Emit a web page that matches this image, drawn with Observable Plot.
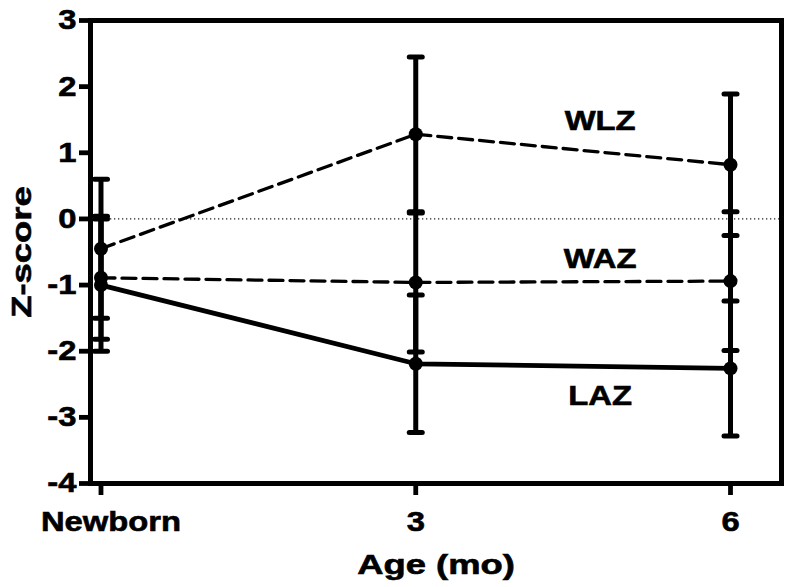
<!DOCTYPE html>
<html>
<head>
<meta charset="utf-8">
<script src="https://cdn.jsdelivr.net/npm/d3@7"></script>
<script src="https://cdn.jsdelivr.net/npm/@observablehq/plot@0.6"></script>
<style>
  html, body { margin: 0; padding: 0; background: white; }
</style>
</head>
<body>
<div id="chart"></div>
<script>
// ---- data ----
const ages = [0, 3, 6];
const ageLabels = ["Newborn", "3", "6"];
const yTicks = [-4, -3, -2, -1, 0, 1, 2, 3];

const series = ["WLZ", "WAZ", "LAZ"];
const wlzMean = [-0.45, 1.28, 0.82];
const wlzSD   = [1.05, 1.17, 1.07];
const wazMean = [-0.89, -0.96, -0.94];
const wazSD   = [0.93, 1.05, 1.05];
const lazMean = [-1.00, -2.19, -2.26];
const lazSD   = [1.00, 1.04, 1.02];

// ---- build table ----
const means = {WLZ: wlzMean, WAZ: wazMean, LAZ: lazMean};
const sds = {WLZ: wlzSD, WAZ: wazSD, LAZ: lazSD};
const rows = [];
for (const s of series) {
  ages.forEach((a, i) => rows.push({series: s, age: a, mean: means[s][i], lo: means[s][i] - sds[s][i], hi: means[s][i] + sds[s][i]}));
}
const caps = rows.flatMap(r => [{age: r.age, v: r.lo}, {age: r.age, v: r.hi}]);

// label anchors: midpoint of the last segment of each line
const labelOffset = {WLZ: -28, WAZ: -23, LAZ: 30};
const labels = series.map(s => ({
  series: s,
  x: (ages[1] + ages[2]) / 2,
  y: (means[s][1] + means[s][2]) / 2
}));

const capSymbol = {
  draw(context, size) {
    const h = Math.sqrt(size / Math.PI);
    context.moveTo(-h, 0);
    context.lineTo(h, 0);
  }
};

const dash = {WLZ: "14,7", WAZ: "14,7", LAZ: null};
const lw = {WLZ: 3.3, WAZ: 3.3, LAZ: 4.8};

const marks = [
  Plot.ruleY([0], {stroke: "#222", strokeWidth: 1.3, strokeDasharray: "1.3,2.7"}),
  ...series.map(s => Plot.line(rows.filter(r => r.series === s), {
    x: "age", y: "mean", stroke: "black", strokeWidth: lw[s],
    strokeDasharray: dash[s] || undefined
  })),
  Plot.ruleX(rows, {x: "age", y1: "lo", y2: "hi", stroke: "black", strokeWidth: 5}),
  Plot.dot(caps, {x: "age", y: "v", symbol: capSymbol, r: 6.5, stroke: "black", strokeWidth: 5, strokeLinecap: "round", fill: "none"}),
  Plot.dot(rows, {x: "age", y: "mean", r: 7, fill: "black", stroke: "none"}),
  ...labels.map(l => Plot.text([l], {x: "x", y: "y", text: "series", dx: 27, dy: labelOffset[l.series], fill: "black"})),
  Plot.axisY({ticks: yTicks, tickSize: 11, tickPadding: 3, strokeWidth: 4.8, tickFormat: d => String(d), label: null}),
  Plot.axisX({ticks: ages, tickSize: 12, tickPadding: 16, strokeWidth: 4.8, tickFormat: (d) => ageLabels[ages.indexOf(d)], label: null}),
  Plot.text(["Z-score"], {frameAnchor: "left", textAnchor: "middle", lineAnchor: "middle", dx: -68, rotate: -90, fill: "black"}),
  Plot.text(["Age (mo)"], {frameAnchor: "bottom", textAnchor: "middle", lineAnchor: "middle", dy: 82, fill: "black"}),
  Plot.frame({stroke: "black", strokeWidth: 5})
];

const chart = Plot.plot({
  width: 792,
  height: 587,
  marginLeft: 90,
  marginRight: 11,
  marginTop: 20,
  marginBottom: 104,
  x: {domain: [-0.1, 6.486]},
  y: {domain: [-4, 3]},
  style: {
    background: "white",
    color: "black",
    fontFamily: "'Liberation Sans', Arial, sans-serif",
    fontSize: "28px",
    fontWeight: "bold"
  },
  marks
});

// widen glyphs horizontally, as in the reference typeface; thicken slightly
const titles = new Set(["Z-score", "Age (mo)"]);
chart.querySelectorAll("text").forEach(t => {
  const label = t.textContent;
  const sx = titles.has(label) ? 1.3 : 1.17;
  const shift = label === "Newborn" ? "translate(10,0) " : "";
  const tr = t.getAttribute("transform");
  if (tr) {
    t.setAttribute("transform", shift + tr + ` scale(${sx},1)`);
  } else {
    const x = +(t.getAttribute("x") || 0), y = +(t.getAttribute("y") || 0);
    t.removeAttribute("x"); t.removeAttribute("y");
    t.setAttribute("transform", `${shift}translate(${x},${y}) scale(${sx},1)`);
  }
  t.setAttribute("stroke", "black");
  t.setAttribute("stroke-width", "0.6");
});

document.getElementById("chart").appendChild(chart);
</script>
</body>
</html>
